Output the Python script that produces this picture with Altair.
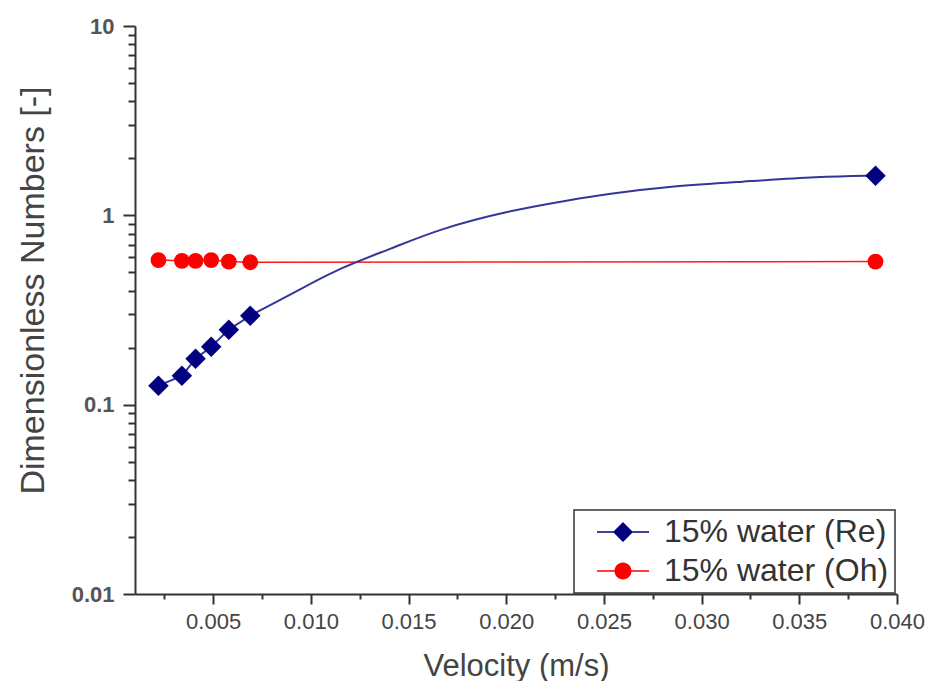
import altair as alt
import pandas as pd

# ---- data ----
velocity = [0.0022, 0.0034, 0.0041, 0.0049, 0.0058, 0.0069, 0.0389]
re_values = [0.126, 0.142, 0.175, 0.202, 0.249, 0.295, 1.62]
oh_values = [0.58, 0.575, 0.575, 0.58, 0.57, 0.565, 0.57]

# fitted Re curve
fit_velocity = [0.0069, 0.0095, 0.0115, 0.0141, 0.0166, 0.0201, 0.0233, 0.0252, 0.0286, 0.0320, 0.0360, 0.0389]
fit_re = [0.295, 0.409, 0.528, 0.666, 0.849, 1.056, 1.207, 1.298, 1.431, 1.503, 1.600, 1.62]

series_names = ["15% water (Re)", "15% water (Oh)"]
series_colors = ["#000080", "#ff0000"]

x_ticks = [0.0025, 0.005, 0.0075, 0.01, 0.0125, 0.015, 0.0175, 0.02,
           0.0225, 0.025, 0.0275, 0.03, 0.0325, 0.035, 0.0375, 0.04]
y_ticks = [0.01, 0.02, 0.03, 0.04, 0.05, 0.06, 0.07, 0.08, 0.09,
           0.1, 0.2, 0.3, 0.4, 0.5, 0.6, 0.7, 0.8, 0.9,
           1, 2, 3, 4, 5, 6, 7, 8, 9, 10]
y_major = [0.01, 0.1, 1, 10]

# ---- tables ----
pts = pd.DataFrame({"v": velocity, "re": re_values, "oh": oh_values})
re_seg = pd.DataFrame({"v": velocity[:-1], "re": re_values[:-1]})
fit = pd.DataFrame({"v": fit_velocity, "re": fit_re})
legend_df = pd.DataFrame({"series": series_names})

FONT = "Liberation Sans"
major_x = "round(datum.value * 2000) % 2 == 0"
major_y = "indexof([" + ",".join(str(v) for v in y_major) + "], datum.value) >= 0"

x_scale = alt.Scale(domain=[0.001, 0.040], nice=False, zero=False)
y_scale = alt.Scale(type="log", domain=[0.01, 10], nice=False)

x_axis = alt.Axis(
    values=x_ticks,
    title="Velocity (m/s)",
    labelExpr=major_x + " ? format(datum.value, '.3f') : ''",
    tickSize={"condition": {"test": major_x, "value": 10}, "value": 5},
    tickColor="#333", tickWidth=2,
    domainColor="#333", domainWidth=2,
    labelFont=FONT, labelFontSize=22, labelColor="#444",
    labelBaseline="alphabetic", labelPadding=24,
    labelFlush=False, labelOverlap=False,
    titleFont=FONT, titleFontSize=31, titleFontWeight="normal", titleColor="#444",
    titleBaseline="alphabetic", titleY=81, titleX=381,
    grid=False,
)
y_axis = alt.Axis(
    values=y_ticks,
    title="Dimensionless Numbers [-]",
    labelExpr=major_y + " ? toString(datum.value) : ''",
    tickSize={"condition": {"test": major_y, "value": 12}, "value": 7},
    tickColor="#333", tickWidth=2,
    domainColor="#333", domainWidth=2,
    labelFont=FONT, labelFontSize=22, labelFontWeight="bold", labelColor="#555",
    labelPadding=9, labelFlush=False, labelOverlap=False,
    titleFont=FONT, titleFontSize=34, titleFontWeight="normal", titleColor="#444",
    titleAngle=-90, titleBaseline="alphabetic", titleAlign="center",
    titleX=-92, titleY=264,
    grid=False,
)

X = alt.X("v:Q", scale=x_scale, axis=x_axis)

oh_line_layer = alt.Chart(pts).mark_line(color="#ff1a1a", strokeWidth=1.5).encode(
    x=X, y=alt.Y("oh:Q", scale=y_scale, axis=y_axis)
)
re_seg_layer = alt.Chart(re_seg).mark_line(
    color="#35359a", strokeWidth=2
).encode(x=alt.X("v:Q", scale=x_scale), y=alt.Y("re:Q", scale=y_scale))
fit_layer = alt.Chart(fit).mark_line(
    color="#35359a", strokeWidth=2, interpolate="basis"
).encode(x=alt.X("v:Q", scale=x_scale), y=alt.Y("re:Q", scale=y_scale))

re_pts_layer = alt.Chart(pts).mark_point(
    shape="diamond", filled=True, size=420, color="#000080", opacity=1
).encode(x=alt.X("v:Q", scale=x_scale), y=alt.Y("re:Q", scale=y_scale))

oh_pts_layer = alt.Chart(pts).mark_point(
    shape="circle", filled=True, size=250, color="#ff0000", opacity=1
).encode(x=alt.X("v:Q", scale=x_scale), y=alt.Y("oh:Q", scale=y_scale))

# legend symbols: a line with a marker on it
path_re = "M-2.6,-0.08H2.6V0.08H-2.6Z M0,-1L1,0L0,1L-1,0Z"
path_oh = ("M-2.6,-0.08H2.6V0.08H-2.6Z "
           "M-0.85,0A0.85,0.85,0,1,1,0.85,0A0.85,0.85,0,1,1,-0.85,0Z")

legend_def = alt.Legend(
    title=None, orient="none", legendX=439, legendY=484,
    fillColor="white", strokeColor="#333", padding=6,
    labelFont=FONT, labelFontSize=32, labelColor="#333", labelLimit=400,
    symbolSize=400, symbolStrokeWidth=0, symbolOffset=27, labelOffset=25,
    rowPadding=7,
)
legend_layer = alt.Chart(legend_df).transform_filter("false").mark_point(
    filled=True, size=400, opacity=1
).encode(
    color=alt.Color("series:N", scale=alt.Scale(domain=series_names, range=series_colors),
                    legend=legend_def),
    shape=alt.Shape("series:N", scale=alt.Scale(domain=series_names, range=[path_re, path_oh]),
                    legend=legend_def),
)

chart = alt.layer(
    oh_line_layer, re_seg_layer, fit_layer, re_pts_layer, oh_pts_layer, legend_layer
).properties(
    width=762, height=568,
    padding={"left": 135, "top": 26, "right": 32, "bottom": 87},
    autosize=alt.AutoSizeParams(type="none"),
    background="white",
).configure_view(stroke=None).configure_legend(strokeWidth=1.5)

chart.save("out.html", embed_options={"renderer": "svg", "actions": False})
